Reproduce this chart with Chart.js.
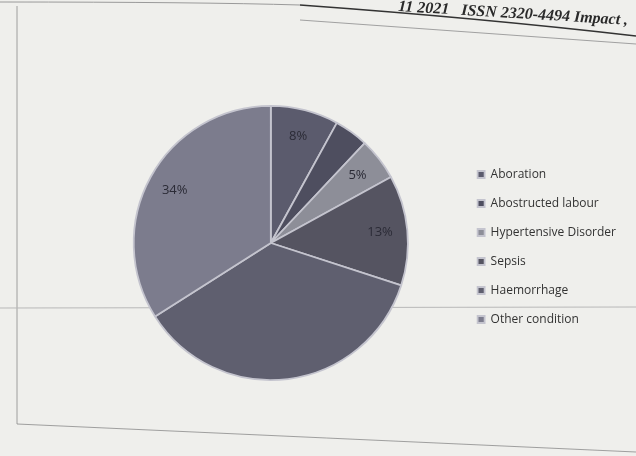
<!DOCTYPE html>
<html>
<head>
<meta charset="utf-8">
<script src="https://cdn.jsdelivr.net/npm/chart.js@4.4.1/dist/chart.umd.min.js"></script>
<style>
  html, body { margin:0; padding:0; background:#efefec; }
  #wrap { width:636px; height:456px; position:relative; }
</style>
</head>
<body>
<div id="wrap"><canvas id="pie" width="636" height="456"></canvas></div>
<script>
// ── Data ────────────────────────────────────────────────────
const causes = ['Aboration', 'Abostructed labour', 'Hypertensive Disorder', 'Sepsis', 'Haemorrhage', 'Other condition'];
const shares = [8, 4, 5, 13, 36, 34];
const shownLabels = [0, 2, 3, 5];   // slices whose % label is readable in the scan

const sliceColors = ['#5b5b6d', '#4e4e5f', '#8d8e98', '#555461', '#5f5f6f', '#7c7c8d'];

// ── Paper frame + header ─────────────────────────────────────
const paperPlugin = {
  id: 'paper',
  beforeDraw(chart) {
    const c = chart.ctx;
    c.save();
    c.fillStyle = '#efefec';
    c.fillRect(0, 0, chart.width, chart.height);
    // top edge of the page scan
    c.strokeStyle = '#9a9a9a'; c.lineWidth = 1;
    c.beginPath(); c.moveTo(0, 2); c.quadraticCurveTo(200, 2, 300, 5); c.stroke();
    c.strokeStyle = '#333'; c.lineWidth = 1.6;
    c.beginPath(); c.moveTo(300, 5); c.quadraticCurveTo(480, 18, 636, 36); c.stroke();
    c.strokeStyle = '#a0a0a0'; c.lineWidth = 1;
    c.beginPath(); c.moveTo(300, 20); c.lineTo(636, 44); c.stroke();
    // figure frame
    c.strokeStyle = '#8a8a8a'; c.lineWidth = 0.8;
    c.beginPath(); c.moveTo(17, 6); c.lineTo(17, 424); c.lineTo(636, 452); c.stroke();
    // fold line across the page
    c.strokeStyle = '#b8b8b8'; c.lineWidth = 1;
    c.beginPath(); c.moveTo(0, 308); c.lineTo(636, 307); c.stroke();
    // journal header
    c.translate(398, 11); c.rotate(0.06);
    c.fillStyle = '#2a2a2a';
    c.font = 'italic bold 16px "Liberation Serif"';
    c.fillText('11 2021   ISSN 2320-4494 Impact ,', 0, 0);
    c.restore();
  },
  afterLayout(chart) {
    chart.legend.top += 4;
    chart.legend.bottom += 4;
  }
};

// ── Slice labels ────────────────────────────────────────────
const pctPlugin = {
  id: 'pct',
  afterDatasetsDraw(chart) {
    const c = chart.ctx;
    const arcs = chart.getDatasetMeta(0).data;
    c.save();
    c.fillStyle = '#2b2b36';
    c.font = '13px "Open Sans"';
    c.textAlign = 'center'; c.textBaseline = 'middle';
    shownLabels.forEach(i => {
      const a = arcs[i];
      const mid = (a.startAngle + a.endAngle) / 2;
      const r = a.outerRadius * 0.8;
      c.fillText(shares[i] + '%', a.x + Math.cos(mid) * r, a.y + Math.sin(mid) * r);
    });
    c.restore();
  }
};

new Chart(document.getElementById('pie'), {
  type: 'pie',
  data: {
    labels: causes,
    datasets: [{ data: shares, backgroundColor: sliceColors, borderColor: '#c4c4ce', borderWidth: 1.8 }]
  },
  options: {
    responsive: false, animation: false,
    layout: { padding: { left: 81, right: 10, top: 105, bottom: 75 } },
    plugins: {
      legend: {
        position: 'right',
        labels: { boxWidth: 7, boxHeight: 7, padding: 17, color: '#333', font: { family: 'Open Sans', size: 12 } }
      },
      tooltip: { enabled: false }
    }
  },
  plugins: [paperPlugin, pctPlugin]
});
</script>
</body>
</html>
